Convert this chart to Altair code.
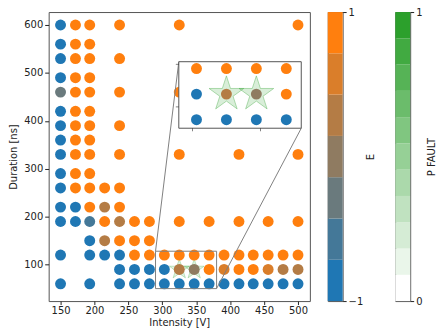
import altair as alt
import pandas as pd

# ---- data -----------------------------------------------------------------
# Intensity levels (V) of the scanned grid, one per column
intensity_levels = [150, 172, 193, 215, 237, 259, 281, 303, 325, 347,
                    369, 391, 413, 434, 456, 478, 500]

# Duration (ns) of each scanned row, top to bottom
duration_rows = [600, 560, 530, 490, 460, 420, 390, 360, 330, 290,
                 260, 220, 190, 150, 120, 90, 60]

# For each row: which intensity columns were tested
row_columns = [
    [0, 1, 2, 4, 8, 16],
    [0, 1, 2],
    [0, 1, 2, 4],
    [0, 1, 2],
    [0, 1, 2, 4, 8],
    [0, 1, 2],
    [0, 1, 2, 4],
    [0, 1, 2],
    [0, 1, 2, 4, 8, 12, 16],
    [0, 1, 2],
    [0, 1, 2, 3, 4],
    [0, 1, 2, 3, 4],
    [0, 1, 2, 3, 4, 5, 6, 8, 10, 12, 14, 16],
    [2, 3, 4, 5, 6],
    [0, 2, 3, 4, 5, 6, 7, 8, 9, 10, 11, 12, 13, 14, 15, 16],
    [4, 5, 6, 7, 8, 9, 10, 11, 12, 13, 14, 15, 16],
    [0, 2, 4, 5, 6, 7, 8, 9, 10, 11, 12, 13, 14, 15, 16],
]

# ... and the measured E of every tested point in that row
row_energy = [
    [-1, 1, 1, 1, 1, 1],
    [-1, 1, 1],
    [-1, 1, 1, 1],
    [-1, 1, 1],
    [-0.3, 1, 1, 1, 1],
    [-1, 1, 1],
    [-1, 1, 1, 1],
    [-1, 1, 1],
    [-1, 1, 1, 1, 1, 1, 1],
    [-1, 1, 1],
    [-1, 1, 1, 1, 1],
    [-1, -1, 1, 0.4, 1],
    [-1, -1, -0.6, 1, 0.4, 1, 1, 1, 1, 1, 1, 1],
    [-1, 0.4, 1, 1, 1],
    [-1, -1, -1, -1, 1, 1, 1, 1, 1, 1, 1, 1, 1, 1, 1, 1],
    [-1, -1, -1, -1, 0.4, 0, 1, 0.7, 1, 1, 0.7, 0.4, 0.4],
    [-1, -1, -1, -1, -1, -1, -1, -1, -1, -1, -1, -1, -1, -1, -1],
]

# Points where a fault was observed
fault_intensity = [325, 347]
fault_duration = [90, 90]
p_fault = [0.9, 0.9]

# Zoomed region shown in the inset (data units)
zoom_x = [290, 380]
zoom_y = [50, 128]
inset_xticks = [300, 350]
inset_yticks = [75, 125]

# ---- layout ---------------------------------------------------------------
W, H = 263, 291
X_DOM = [132.5, 517.5]
Y_DOM = [24, 627]
# Inset placement, expressed in main-axes data units
inset_x = [324.3, 504.8]
inset_y = [384.6, 523.4]

FONT = "DejaVu Sans"
INK = "#222222"
FRAME = "#555555"
LINK = "#808080"

# five-pointed star, unit radius, point up
STAR = ("M0,-1L0.2245,-0.309L0.9511,-0.309L0.3633,0.118L0.5878,0.809"
        "L0,0.382L-0.5878,0.809L-0.3633,0.118L-0.9511,-0.309L-0.2245,-0.309Z")


def lerp_hex(c0, c1, t):
    a = [int(c0[i:i + 2], 16) for i in (1, 3, 5)]
    b = [int(c1[i:i + 2], 16) for i in (1, 3, 5)]
    return "#" + "".join(f"{round(a[k] + (b[k] - a[k]) * t):02x}" for k in range(3))


N_E, N_P = 7, 11
e_colors = [lerp_hex("#1f77b4", "#ff7f0e", i / (N_E - 1)) for i in range(N_E)]
p_colors = [lerp_hex("#ffffff", "#2ca02c", i / (N_P - 1)) for i in range(N_P)]

e_scale = alt.Scale(type="quantize", domain=[-1, 1], range=e_colors)
p_scale = alt.Scale(type="quantize", domain=[0, 1], range=p_colors)

# ---- tables ---------------------------------------------------------------
records = []
for dur, cols, es in zip(duration_rows, row_columns, row_energy):
    for c, e in zip(cols, es):
        records.append({"intensity": intensity_levels[c], "duration": dur, "E": e})
points = pd.DataFrame(records)

faults = pd.DataFrame({"intensity": fault_intensity, "duration": fault_duration,
                       "p": p_fault})

zoom_box = pd.DataFrame({"x0": [zoom_x[0]], "x1": [zoom_x[1]],
                         "y0": [zoom_y[0]], "y1": [zoom_y[1]]})

# connectors: inset upper-left -> zoom upper-left, inset lower-right -> zoom lower-right
links = pd.DataFrame({
    "x0": [inset_x[0], inset_x[1]], "y0": [inset_y[1], inset_y[0]],
    "x1": [zoom_x[0], zoom_x[1]], "y1": [zoom_y[1], zoom_y[0]],
})

xticks_df = pd.DataFrame({"intensity": inset_xticks, "duration": [zoom_y[0]] * len(inset_xticks)})
yticks_df = pd.DataFrame({"intensity": [zoom_x[0]] * len(inset_yticks), "duration": inset_yticks})

# linear map from zoomed data units to inset position in main-axes units
kx = (inset_x[1] - inset_x[0]) / (zoom_x[1] - zoom_x[0])
ky = (inset_y[1] - inset_y[0]) / (zoom_y[1] - zoom_y[0])
to_inset = dict(
    ix=f"{inset_x[0]} + (datum.intensity - {zoom_x[0]}) * {kx}",
    iy=f"{inset_y[0]} + (datum.duration - {zoom_y[0]}) * {ky}",
)

# ---- main axes ------------------------------------------------------------
mx_scale = alt.Scale(domain=X_DOM, nice=False, zero=False)
my_scale = alt.Scale(domain=Y_DOM, nice=False, zero=False)
mx_axis = alt.Axis(title="Intensity [V]", values=list(range(150, 501, 50)),
                   tickSize=3.5, labelPadding=1.5, titlePadding=2)
my_axis = alt.Axis(title="Duration [ns]", values=list(range(100, 601, 100)),
                   tickSize=4, labelPadding=2, titlePadding=5)


def mx(f):
    return alt.X(f, type="quantitative", scale=mx_scale, axis=mx_axis)


def my(f):
    return alt.Y(f, type="quantitative", scale=my_scale, axis=my_axis)


main_stars = alt.Chart(faults).mark_point(
    shape=STAR, filled=True, size=440, fillOpacity=0.15,
    strokeOpacity=0.3, strokeWidth=1
).encode(
    x=mx("intensity"), y=my("duration"),
    fill=alt.Fill("p:Q", scale=p_scale, legend=None),
    stroke=alt.Stroke("p:Q", scale=p_scale, legend=None),
)

main_points = alt.Chart(points).mark_circle(size=121, opacity=1).encode(
    x=mx("intensity"), y=my("duration"),
    color=alt.Color("E:Q", scale=e_scale, legend=None),
)

zoom_rect = alt.Chart(zoom_box).mark_rect(
    fillOpacity=0, stroke=LINK, strokeWidth=1
).encode(x=mx("x0"), x2="x1", y=my("y0"), y2="y1")

link_lines = alt.Chart(links).mark_rule(color=LINK, strokeWidth=1).encode(
    x=mx("x0"), y=my("y0"), x2="x1", y2="y1"
)

# ---- inset (drawn in main units through the linear map) -------------------
inset_frame = alt.Chart(zoom_box).transform_calculate(
    ix0=f"{inset_x[0]} + (datum.x0 - {zoom_x[0]}) * {kx}",
    ix1=f"{inset_x[0]} + (datum.x1 - {zoom_x[0]}) * {kx}",
    iy0=f"{inset_y[0]} + (datum.y0 - {zoom_y[0]}) * {ky}",
    iy1=f"{inset_y[0]} + (datum.y1 - {zoom_y[0]}) * {ky}",
).mark_rect(fill="white", stroke=FRAME, strokeWidth=1).encode(
    x=mx("ix0"), x2="ix1", y=my("iy0"), y2="iy1"
)

inset_xtick_marks = alt.Chart(xticks_df).transform_calculate(**to_inset).mark_tick(
    orient="vertical", size=3, thickness=0.8, color=INK, yOffset=1.5
).encode(x=mx("ix"), y=my("iy"))

inset_ytick_marks = alt.Chart(yticks_df).transform_calculate(**to_inset).mark_tick(
    orient="horizontal", size=3, thickness=0.8, color=INK, xOffset=-1.5
).encode(x=mx("ix"), y=my("iy"))

inset_stars = alt.Chart(faults).transform_calculate(**to_inset).mark_point(
    shape=STAR, filled=True, size=1350, fillOpacity=0.2,
    strokeOpacity=0.4, strokeWidth=1
).encode(
    x=mx("ix"), y=my("iy"),
    fill=alt.Fill("p:Q", scale=p_scale, legend=None),
    stroke=alt.Stroke("p:Q", scale=p_scale, legend=None),
)

inset_points = alt.Chart(points).transform_filter(
    (alt.datum.intensity >= zoom_x[0]) & (alt.datum.intensity <= zoom_x[1])
    & (alt.datum.duration >= zoom_y[0]) & (alt.datum.duration <= zoom_y[1])
).transform_calculate(**to_inset).mark_circle(size=121, opacity=1).encode(
    x=mx("ix"), y=my("iy"),
    color=alt.Color("E:Q", scale=e_scale, legend=None),
)

main = alt.layer(
    main_stars, main_points, zoom_rect, link_lines,
    inset_frame, inset_xtick_marks, inset_ytick_marks, inset_stars, inset_points,
).properties(width=W, height=H)

# ---- colour bars ----------------------------------------------------------
e_edges = [-1 + 2 * i / N_E for i in range(N_E + 1)]
e_bands = pd.DataFrame({"lo": e_edges[:-1], "hi": e_edges[1:],
                        "mid": [(a + b) / 2 for a, b in zip(e_edges[:-1], e_edges[1:])]})
p_edges = [i / N_P for i in range(N_P + 1)]
p_bands = pd.DataFrame({"lo": p_edges[:-1], "hi": p_edges[1:],
                        "mid": [(a + b) / 2 for a, b in zip(p_edges[:-1], p_edges[1:])]})

cbar_e = alt.Chart(e_bands).mark_rect().encode(
    y=alt.Y("lo:Q", scale=alt.Scale(domain=[-1, 1], nice=False, zero=False),
            axis=alt.Axis(orient="right", values=[-1, 0, 1], format="d", title="E",
                          titleAngle=270, titleBaseline="top", tickSize=3.5,
                          labelPadding=2, titlePadding=3)),
    y2="hi:Q",
    color=alt.Color("mid:Q", scale=e_scale, legend=None),
).properties(width=15, height=H)

cbar_p = alt.Chart(p_bands).mark_rect().encode(
    y=alt.Y("lo:Q", scale=alt.Scale(domain=[0, 1], nice=False, zero=False),
            axis=alt.Axis(orient="right", values=[0, 1], format="d", title="P FAULT",
                          titleAngle=270, titleBaseline="top", tickSize=3.5,
                          labelPadding=2, titlePadding=5)),
    y2="hi:Q",
    fill=alt.Fill("mid:Q", scale=p_scale, legend=None),
).properties(width=15, height=H)

bars = alt.hconcat(cbar_e, cbar_p, spacing=18).resolve_scale(
    color="independent", fill="independent"
)

chart = alt.hconcat(main, bars, spacing=16).resolve_scale(
    color="independent", fill="independent"
).properties(
    padding={"left": 8, "top": 5, "right": 0, "bottom": 0}
).configure_view(
    stroke=FRAME, strokeWidth=1
).configure_axis(
    grid=False, domain=False,
    labelFont=FONT, labelFontSize=10, labelColor=INK,
    titleFont=FONT, titleFontSize=10, titleFontWeight="normal", titleColor=INK,
    tickColor=INK,
)

chart.save("out.html", embed_options={"renderer": "svg", "actions": False})
